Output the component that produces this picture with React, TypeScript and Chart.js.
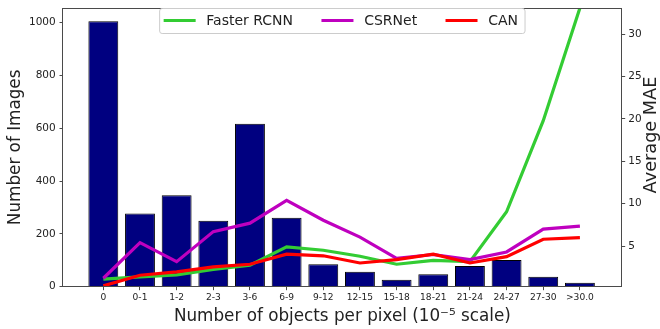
import React, { useEffect, useRef } from "react";
import { Chart, registerables } from "chart.js";

Chart.register(...registerables);

// Density bins (objects per pixel, 10^-5 scale)
const categories = ["0", "0-1", "1-2", "2-3", "3-6", "6-9", "9-12", "12-15", "15-18", "18-21", "21-24", "24-27", "27-30", ">30.0"];

// Number of images per density bin (left axis)
const imageCounts = [1005, 277, 346, 250, 617, 261, 85, 57, 26, 47, 78, 101, 38, 15];

// Average MAE per density bin (right axis)
const fasterRcnnMae = [1.1, 1.35, 1.6, 2.25, 2.75, 4.9, 4.5, 3.8, 2.85, 3.3, 3.15, 9.05, 19.8, 33.1];
const csrnetMae = [1.2, 5.4, 3.15, 6.7, 7.7, 10.4, 8.05, 6.05, 3.55, 4.0, 3.4, 4.3, 7.0, 7.35];
const canMae = [0.3, 1.55, 1.95, 2.55, 2.85, 4.05, 3.85, 3.0, 3.4, 4.05, 3.0, 3.75, 5.8, 6.0];

// Axis ticks
const countTicks = [0, 200, 400, 600, 800, 1000];
const maeTicks = [5, 10, 15, 20, 25, 30];

const rightAxisTitle = "Average MAE";

const FONT = '"DejaVu Sans", sans-serif';
const SPINE = "#4a4a4a";
const TEXT = "#222222";

// Axes frame on all four sides, the right-hand axis title (reading upwards),
// and a framed legend for the line series
const frameAndLegend = {
  id: "frameAndLegend",
  afterDatasetsDraw(chart: any) {
    const { ctx, chartArea: a } = chart;
    ctx.save();
    ctx.strokeStyle = SPINE;
    ctx.lineWidth = 1;
    const l = Math.floor(a.left) - 0.5;
    const r = Math.floor(a.right) + 0.5;
    const t = Math.floor(a.top) + 0.5;
    const b = Math.floor(a.bottom) + 0.5;
    ctx.strokeRect(l, t, r - l, b - t);
    ctx.restore();
  },
  afterDraw(chart: any) {
    const { ctx, chartArea: a } = chart;

    // right axis title
    ctx.save();
    ctx.font = `17.7px ${FONT}`;
    ctx.fillStyle = TEXT;
    ctx.textAlign = "center";
    ctx.textBaseline = "middle";
    ctx.translate(651, 135);
    ctx.rotate(-Math.PI / 2);
    ctx.fillText(rightAxisTitle, 0, 0);
    ctx.restore();

    // legend
    const items = chart.data.datasets.filter((d: any) => d.type === "line");
    ctx.save();
    ctx.font = `14px ${FONT}`;
    const padL = 4;
    const handle = 32;
    const handleGap = 10.7;
    const colGap = 28.4;
    const padR = 7;
    const widths = items.map((d: any) => ctx.measureText(d.label).width);
    let total = padL + padR;
    widths.forEach((w: number, i: number) => {
      total += handle + handleGap + w + (i > 0 ? colGap : 0);
    });
    const x0 = (a.left + a.right) / 2 - total / 2;
    const y0 = a.top + 0.5;
    const h = 25;
    ctx.beginPath();
    ctx.roundRect(x0, y0, total, h, 2.5);
    ctx.fillStyle = "rgba(255,255,255,0.8)";
    ctx.fill();
    ctx.strokeStyle = "#cccccc";
    ctx.lineWidth = 1;
    ctx.stroke();
    const cy = y0 + h / 2;
    let x = x0 + padL;
    items.forEach((d: any, i: number) => {
      ctx.beginPath();
      ctx.strokeStyle = d.borderColor;
      ctx.lineWidth = 3;
      ctx.moveTo(x, cy - 0.5);
      ctx.lineTo(x + handle, cy - 0.5);
      ctx.stroke();
      ctx.fillStyle = TEXT;
      ctx.textBaseline = "middle";
      ctx.textAlign = "left";
      ctx.fillText(d.label, x + handle + handleGap, cy);
      x += handle + handleGap + widths[i] + colGap;
    });
    ctx.restore();
  },
};

const toPoints = (values: number[]) => values.map((y, i) => ({ x: i, y }));

export default function App() {
  const canvasRef = useRef<HTMLCanvasElement>(null);

  useEffect(() => {
    const canvas = canvasRef.current;
    if (!canvas) return;
    Chart.defaults.font.family = FONT;
    Chart.defaults.color = TEXT;

    const chart = new Chart(canvas, {
      type: "bar",
      data: {
        datasets: [
          {
            type: "line",
            label: "Faster RCNN",
            data: toPoints(fasterRcnnMae),
            borderColor: "#33cc33",
            backgroundColor: "#33cc33",
            borderWidth: 3.2,
            pointRadius: 0,
            tension: 0,
            yAxisID: "y2",
            order: 3,
          },
          {
            type: "line",
            label: "CSRNet",
            data: toPoints(csrnetMae),
            borderColor: "#bf00bf",
            backgroundColor: "#bf00bf",
            borderWidth: 3.2,
            pointRadius: 0,
            tension: 0,
            yAxisID: "y2",
            order: 2,
          },
          {
            type: "line",
            label: "CAN",
            data: toPoints(canMae),
            borderColor: "#ff0000",
            backgroundColor: "#ff0000",
            borderWidth: 3.2,
            pointRadius: 0,
            tension: 0,
            yAxisID: "y2",
            order: 1,
          },
          {
            type: "bar",
            label: "Number of Images",
            data: toPoints(imageCounts),
            backgroundColor: "#000080",
            borderColor: "#000000",
            borderWidth: 1,
            categoryPercentage: 1,
            barPercentage: 0.815,
            yAxisID: "y",
            order: 10,
          },
        ] as any,
      },
      options: {
        responsive: false,
        animation: false,
        events: [],
        layout: { padding: { top: 8, left: 0, right: 0, bottom: 0 } },
        plugins: {
          legend: { display: false },
          tooltip: { enabled: false },
        },
        scales: {
          x: {
            type: "linear",
            min: -1.1,
            max: 14.14,
            offset: false,
            afterBuildTicks: (s: any) => {
              s.ticks = categories.map((_, i) => ({ value: i }));
            },
            afterFit: (s: any) => {
              s.height = 42.3;
              s.paddingLeft = 0;
              s.paddingRight = 0;
            },
            ticks: {
              autoSkip: false,
              maxRotation: 0,
              padding: 2.2,
              color: TEXT,
              font: { size: 9.1 },
              callback: (v: any) => categories[v] ?? "",
            },
            grid: { offset: false, drawOnChartArea: false, tickLength: 3.5, color: SPINE },
            border: { display: false },
            title: {
              display: true,
              text: "Number of objects per pixel (10⁻⁵ scale)",
              color: TEXT,
              font: { size: 16.8 },
              padding: { top: 0, bottom: 1.8 },
            },
          },
          y: {
            type: "linear",
            position: "left",
            min: 0,
            max: 1055,
            afterBuildTicks: (s: any) => {
              s.ticks = countTicks.map((v) => ({ value: v }));
            },
            afterFit: (s: any) => {
              s.width = 63;
              s.paddingTop = 0;
              s.paddingBottom = 0;
            },
            ticks: { padding: 3.8, color: TEXT, font: { size: 10.5 }, callback: (v: any) => String(v) },
            grid: { drawOnChartArea: false, tickLength: 3.5, color: SPINE },
            border: { display: false },
            title: {
              display: true,
              text: "Number of Images",
              color: TEXT,
              font: { size: 16.8 },
              padding: { top: 5.5, bottom: 0 },
            },
          },
          y2: {
            type: "linear",
            position: "right",
            min: 0.2,
            max: 33.1,
            afterBuildTicks: (s: any) => {
              s.ticks = maeTicks.map((v) => ({ value: v }));
            },
            afterFit: (s: any) => {
              s.width = 38.3;
              s.paddingTop = 0;
              s.paddingBottom = 0;
            },
            ticks: { padding: 3, color: TEXT, font: { size: 10.5 }, callback: (v: any) => String(v) },
            grid: { drawOnChartArea: false, tickLength: 3.5, color: SPINE },
            border: { display: false },
            title: { display: false },
          },
        },
      } as any,
      plugins: [frameAndLegend],
    });

    return () => chart.destroy();
  }, []);

  return (
    <div style={{ position: "absolute", left: 0, top: 0, width: 660, height: 329 }}>
      <canvas ref={canvasRef} width={660} height={329} style={{ display: "block", width: 660, height: 329 }} />
    </div>
  );
}
